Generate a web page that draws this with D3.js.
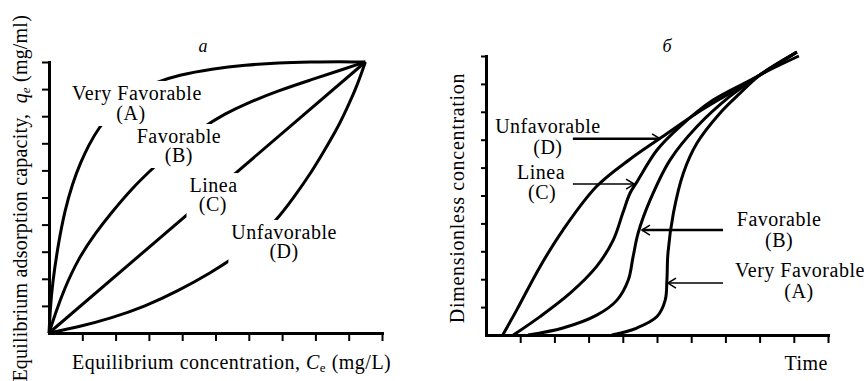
<!DOCTYPE html>
<html>
<head>
<meta charset="utf-8">
<script src="https://cdn.jsdelivr.net/npm/d3@7/dist/d3.min.js"></script>
<style>
  body { margin: 0; background: #fff; }
  text { font-family: "Liberation Serif", "Times New Roman", serif; fill: #000; }
</style>
</head>
<body>
<div id="chart"></div>
<script>
var W = 864, H = 381;

var tickVals = [1, 2, 3, 4, 5, 6, 7, 8, 9, 10];

// panel a - isotherms, [Ce, qe]
var isoVeryFav = [[0,0],[0.04,0.9],[0.1,1.8],[0.28,3.31],[0.48,4.54],[0.7,5.5],[0.95,6.3],[1.2,6.95],[1.48,7.55],[2.0,8.35],[2.53,8.85],[3.2,9.25],[3.88,9.52],[4.9,9.75],[5.89,9.89],[6.9,9.97],[7.89,10],[8.7,10.02],[9.5,10]];
var isoFav     = [[0,0],[0.2,0.75],[0.45,1.6],[0.88,2.75],[1.4,3.7],[1.88,4.45],[2.5,5.35],[3.13,6.1],[3.9,6.95],[4.63,7.6],[5.3,8.1],[5.89,8.45],[6.9,8.95],[7.89,9.35],[8.7,9.68],[9.5,10]];
var isoLinear  = [[0,0],[9.5,10]];
var isoUnfav   = [[0,0],[0.88,0.22],[1.88,0.55],[2.88,0.98],[3.88,1.55],[4.89,2.25],[5.53,2.75],[6.2,3.4],[6.79,4.1],[7.35,5.0],[7.89,5.95],[8.3,6.8],[8.68,7.6],[8.95,8.3],[9.19,8.95],[9.36,9.5],[9.5,10]];

// panel b - breakthrough curves, [time, concentration]
var btVeryFav = [[3.68,0],[4.41,0.25],[5.0,0.66],[5.24,1.25],[5.29,1.97],[5.32,2.93],[5.48,4.37],[5.77,5.8],[6.17,6.88],[6.84,7.95],[7.43,8.67],[8.01,9.32],[9.09,10.14]];
var btFav     = [[1.23,0],[2.25,0.25],[3.25,0.72],[3.83,1.25],[4.16,1.97],[4.3,2.8],[4.45,3.66],[4.8,4.84],[5.38,6.27],[6.17,7.47],[7.13,8.55],[8.01,9.32],[9.09,10.14]];
var btLinear  = [[0.8,0],[1.58,0.66],[2.46,1.5],[3.23,2.45],[3.72,3.4],[4.0,4.37],[4.21,5.08],[4.41,5.48],[5.0,6.63],[5.67,7.47],[6.64,8.42],[8.01,9.32],[9.09,10.14]];
var btUnfav   = [[0.49,0],[0.9,0.9],[1.58,2.45],[2.25,3.76],[3.23,5.32],[4.21,6.3],[5.09,7.05],[6.16,7.95],[7.13,8.67],[8.01,9.32],[9.15,10.0]];

// curve labels (text, x, y in data units)
var isoLabels = [
  [["Very Favorable", 2.64, 8.6], ["(A)", 2.46, 7.86]],
  [["Favorable", 3.9, 7.01], ["(B)", 3.9, 6.31]],
  [["Linea", 4.94, 5.2], ["(C)", 4.92, 4.5]],
  [["Unfavorable", 7.06, 3.47], ["(D)", 7.06, 2.77]]
];
var btLabels = [
  [["Unfavorable", 1.81, 7.24], ["(D)", 1.81, 6.49]],
  [["Linea", 1.61, 5.59], ["(C)", 1.64, 4.87]],
  [["Favorable", 8.57, 3.91], ["(B)", 8.57, 3.15]],
  [["Very Favorable", 9.18, 2.08], ["(A)", 9.15, 1.33]]
];
// arrows: from x, to x, y, shaft width
var btArrows = [
  [2.54, 5.09, 7.03, 2.5],
  [2.54, 4.33, 5.41, 1.5],
  [6.93, 4.56, 3.76, 2.5],
  [6.93, 5.32, 1.86, 1.5]
];

var svg = d3.select("#chart").append("svg")
    .attr("width", W)
    .attr("height", H);

function panel(opt) {
    var x = d3.scaleLinear().domain([0, 10]).range(opt.xr);
    var y = d3.scaleLinear().domain([0, 10]).range(opt.yr);
    var g = svg.append("g");

    g.append("g")
        .attr("transform", "translate(0," + opt.yr[0] + ")")
        .call(d3.axisBottom(x).tickValues(tickVals).tickSize(8).tickSizeOuter(0).tickFormat(""));
    g.append("g")
        .attr("transform", "translate(" + opt.xr[0] + ",0)")
        .call(d3.axisLeft(y).tickValues(tickVals).tickSize(opt.ytick).tickSizeOuter(0).tickFormat(""));
    g.selectAll(".domain").attr("stroke", "#000").attr("stroke-width", 3).attr("stroke-linecap", "square");
    g.selectAll(".tick line").attr("stroke", "#000").attr("stroke-width", 2);

    var line = d3.line()
        .x(function(d) { return x(d[0]); })
        .y(function(d) { return y(d[1]); })
        .curve(opt.curve);

    g.selectAll("path.curve")
        .data(opt.series)
        .enter().append("path")
        .attr("class", "curve")
        .attr("d", line)
        .attr("fill", "none")
        .attr("stroke", "#000")
        .attr("stroke-width", 3);

    // labels
    opt.labels.forEach(function(block) {
        var lg = g.append("g");
        var bg = lg.append("rect").attr("fill", "#fff");
        block.forEach(function(l) {
            lg.append("text")
                .attr("x", x(l[1]))
                .attr("y", y(l[2]))
                .attr("text-anchor", "middle")
                .attr("font-size", 20)
                .attr("letter-spacing", 0.5)
                .text(l[0]);
        });
        if (opt.mask) {
            var b = lg.node().getBBox();
            bg.attr("x", b.x - 3).attr("y", b.y - 1)
              .attr("width", b.width + 6).attr("height", b.height + 2);
        }
    });

    (opt.arrows || []).forEach(function(a) {
        var x0 = x(a[0]), x1 = x(a[1]), yy = y(a[2]);
        var dir = x1 > x0 ? -1 : 1;
        g.append("line")
            .attr("x1", x0).attr("x2", x1)
            .attr("y1", yy).attr("y2", yy)
            .attr("stroke", "#000")
            .attr("stroke-width", a[3]);
        g.append("path")
            .attr("d", "M" + (x1 + dir * 8) + "," + (yy - 5) + "L" + x1 + "," + yy + "L" + (x1 + dir * 8) + "," + (yy + 5))
            .attr("fill", "none")
            .attr("stroke", "#000")
            .attr("stroke-width", 1.6);
    });

    g.append("text")
        .attr("x", opt.title[1]).attr("y", 52)
        .attr("text-anchor", "middle")
        .attr("font-size", 18)
        .attr("font-style", "italic")
        .text(opt.title[0]);

    return g;
}

var ga = panel({
    xr: [49, 382], yr: [333, 62], ytick: 7,
    series: [isoVeryFav, isoFav, isoLinear, isoUnfav],
    curve: d3.curveBasis,
    labels: isoLabels, mask: true,
    title: ["a", 203]
});

var gb = panel({
    xr: [486, 828], yr: [335, 56], ytick: 5,
    series: [btVeryFav, btFav, btLinear, btUnfav],
    curve: d3.curveCatmullRom.alpha(0.5),
    labels: btLabels, mask: false,
    arrows: btArrows,
    title: ["б", 667]
});

// axis titles
var xt = ga.append("text")
    .attr("x", 72).attr("y", 369)
    .attr("font-size", 20)
    .attr("letter-spacing", 0.5);
xt.append("tspan").text("Equilibrium concentration, ");
xt.append("tspan").attr("font-style", "italic").text("C");
xt.append("tspan").attr("font-size", 13).attr("dy", 3).text("e");
xt.append("tspan").attr("dy", -3).text(" (mg/L)");

var yt = ga.append("text")
    .attr("transform", "translate(27,15) rotate(-90)")
    .attr("text-anchor", "end")
    .attr("font-size", 20)
    .attr("letter-spacing", 0.2);
yt.append("tspan").text("Equilibrium adsorption capacity,\u00a0\u00a0");
yt.append("tspan").attr("font-style", "italic").text("q");
yt.append("tspan").attr("font-style", "italic").attr("font-size", 13).attr("dy", 3).text("e");
yt.append("tspan").attr("dy", -3).text(" (mg/ml)");

gb.append("text")
    .attr("transform", "translate(464,198) rotate(-90)")
    .attr("text-anchor", "middle")
    .attr("font-size", 20)
    .attr("letter-spacing", 0.7)
    .text("Dimensionless concentration");

gb.append("text")
    .attr("x", 828).attr("y", 370)
    .attr("text-anchor", "end")
    .attr("font-size", 20)
    .attr("letter-spacing", 0.5)
    .text("Time");
</script>
</body>
</html>
